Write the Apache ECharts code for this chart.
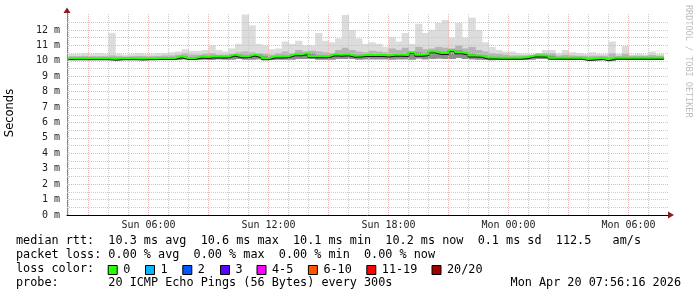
<!DOCTYPE html>
<html><head><meta charset="utf-8">
<script src="https://cdn.jsdelivr.net/npm/echarts@6/dist/echarts.min.js"></script>
<style>html,body{margin:0;padding:0;background:#fff}#c{width:697px;height:297px}</style>
</head><body><div id="c"></div>
<script>
// time in hours since Sun 00:00; samples every 20 min starting Sun 02:00
const T0 = 2.0, STEP = 1/3, TEND = 31.75;
const XMIN = 1.9266, XMAX = 31.9766;
const YMAX = 13.1;

// median rtt (ms)
const med = [10.17,10.17,10.18,10.17,10.16,10.17,10.17,10.13,10.17,10.16,
  10.17,10.15,10.17,10.17,10.18,10.18,10.18,10.30,10.18,10.18,
  10.28,10.25,10.30,10.28,10.28,10.40,10.30,10.30,10.40,10.30,
  10.17,10.28,10.28,10.30,10.42,10.42,10.50,10.30,10.30,10.30,
  10.42,10.40,10.42,10.33,10.35,10.40,10.38,10.40,10.35,10.40,
  10.40,10.38,10.55,10.40,10.42,10.60,10.50,10.50,10.68,10.55,
  10.48,10.35,10.33,10.22,10.22,10.20,10.20,10.20,10.20,10.25,
  10.35,10.35,10.33,10.20,10.20,10.20,10.20,10.20,10.12,10.15,
  10.20,10.10,10.20,10.20,10.20,10.20,10.20,10.20,10.20,10.20];
// max ping (top of light smoke)
const hi = [10.45,10.45,10.50,10.45,10.50,10.45,11.80,10.45,10.40,10.45,
  10.50,10.45,10.45,10.50,10.50,10.55,10.60,10.75,10.65,10.65,
  10.70,11.00,10.70,10.60,10.80,11.10,13.00,12.30,11.10,11.00,
  10.75,10.80,11.25,11.10,11.30,11.00,11.00,11.80,11.30,11.20,
  11.45,12.97,12.00,11.45,11.10,11.20,11.10,10.90,11.55,11.25,
  11.80,11.10,12.40,11.80,12.00,12.45,12.65,11.50,12.45,11.50,
  12.80,12.00,11.20,10.90,10.70,10.60,10.60,10.50,10.45,10.45,
  10.50,10.70,10.70,10.50,10.70,10.55,10.50,10.45,10.55,10.45,
  10.45,11.25,10.45,10.96,10.40,10.45,10.40,10.60,10.45,10.45];
// upper part of dense smoke
const q = [10.30,10.30,10.32,10.30,10.30,10.30,10.35,10.30,10.28,10.30,
  10.32,10.30,10.30,10.32,10.35,10.35,10.40,10.50,10.40,10.40,
  10.45,10.50,10.40,10.40,10.45,10.55,10.60,10.55,10.50,10.45,
  10.40,10.50,10.60,10.50,10.70,10.60,10.65,10.60,10.55,10.50,
  10.70,10.85,10.70,10.60,10.55,10.65,10.60,10.55,10.80,10.70,
  10.85,10.60,10.90,10.75,10.80,10.90,10.85,10.80,11.00,10.80,
  10.90,10.70,10.60,10.50,10.45,10.40,10.35,10.35,10.35,10.35,
  10.50,10.50,10.50,10.35,10.40,10.35,10.33,10.33,10.33,10.33,
  10.33,10.50,10.33,10.45,10.33,10.33,10.33,10.38,10.33,10.33];
// min ping (bottom of smoke)
const lo = [10.06,10.05,10.06,10.05,10.05,10.06,10.05,10.03,10.05,10.05,
  10.06,10.04,10.05,10.05,10.06,10.06,10.06,10.10,10.06,10.06,
  10.08,10.06,10.10,10.08,10.08,10.12,10.08,10.08,10.10,10.08,
  10.05,10.08,10.08,10.08,10.12,10.12,10.15,10.08,10.08,10.08,
  10.12,10.12,10.12,10.08,10.10,10.10,10.10,10.10,10.08,10.10,
  10.10,10.08,10.15,10.10,10.12,10.15,10.12,10.12,10.18,10.12,
  10.10,10.08,10.06,10.04,10.05,10.05,10.05,10.05,10.05,10.08,
  10.12,10.12,10.10,10.05,10.05,10.05,10.05,10.05,10.00,10.02,
  10.05,9.98,10.05,10.05,10.05,10.05,10.05,10.05,10.05,10.05];

const tickHours = [6,12,18,24,30];
const tickLabels = ['Sun 06:00','Sun 12:00','Sun 18:00','Mon 00:00','Mon 06:00'];
const hourLines = [2,3,4,5,6,7,8,9,10,11,12,13,14,15,16,17,18,19,20,21,22,23,24,25,26,27,28,29,30,31];
const yMinor = [0.5,1,1.5,2,2.5,3,3.5,4,4.5,5,5.5,6,6.5,7,7.5,8,8.5,9,9.5,10,10.5,11,11.5,12,12.5];

const lossLabels = ['0','1','2','3','4-5','6-10','11-19','20/20'];
const lossColors = ['#26ff00','#00b8ff','#0059ff','#5e00ff','#ff00ff','#ff5500','#ff0000','#a10000'];
const statLines = [
  'median rtt:  10.3 ms avg  10.6 ms max  10.1 ms min  10.2 ms now  0.1 ms sd  112.5   am/s',
  'packet loss: 0.00 % avg  0.00 % max  0.00 % min  0.00 % now',
  'loss color:',
  'probe:       20 ICMP Echo Pings (56 Bytes) every 300s'
];
const dateText = 'Mon Apr 20 07:56:16 2026';

function tAt(i){ return i < med.length - 1 ? T0 + (i+1)*STEP : TEND; }
function pts(arr){
  const r = arr.map((v,i)=>[T0+i*STEP, v]);
  r.push([TEND, arr[arr.length-1]]);
  return r;
}
function bandData(bottom, top){ return top.map((v,i)=>[T0+i*STEP, tAt(i), bottom[i], v]); }

const MONO = '"DejaVu Sans Mono", monospace';
const MAJ = '#e8b8b8', MIN = '#cbcbcb';

const gridLines = hourLines.map(h=>({xAxis:h, lineStyle:{color: h%3===0?MAJ:MIN, type:[1,1], width:1}}))
  .concat(yMinor.map(v=>({yAxis:v, lineStyle:{color: Number.isInteger(v)?MAJ:MIN, type:[1,1], width:1}})));

function band(bottom, top, color, z){
  return {type:'custom', silent:true, z, clip:true,
    encode:{x:[0,1], y:[2,3]},
    data: bandData(bottom, top),
    renderItem:(params, api)=>{
      const a = api.coord([api.value(0), api.value(3)]);
      const b = api.coord([api.value(1), api.value(2)]);
      return {type:'rect', shape:{x:a[0], y:a[1], width:b[0]-a[0]+0.6, height:b[1]-a[1]}, style:{fill:color}};
    }};
}

const chart = echarts.init(document.getElementById('c'), null, {renderer:'canvas'});
const lossGraphics = [];
const boxX = [107.7,145,182.3,220,256.5,307.9,366.3,431.5];
lossLabels.forEach((l,i)=>{
  lossGraphics.push({type:'rect', shape:{x:boxX[i]+0.5, y:265.5, width:9, height:9}, style:{fill:lossColors[i], stroke:'#000', lineWidth:1}});
  lossGraphics.push({type:'text', x:boxX[i]+15.5, y:270, style:{text:l, font:'11.8px '+MONO, fill:'#000', verticalAlign:'middle'}});
});
const statY = [241,255,269,283];

chart.setOption({
  animation:false,
  backgroundColor:'#fff',
  grid:{left:67, right:29, top:13, bottom:82, containLabel:false},
  xAxis:{type:'value', min:XMIN, max:XMAX,
    axisLine:{show:true, lineStyle:{color:'#000', width:1}},
    axisTick:{show:false, customValues:tickHours},
    splitLine:{show:false},
    axisLabel:{customValues:tickHours, margin:5, fontFamily:'DejaVu Sans Mono', fontSize:10, color:'#222',
      formatter:v=>{const i=tickHours.indexOf(Math.round(v)); return i>=0?tickLabels[i]:'';}}
  },
  yAxis:{type:'value', min:0, max:YMAX, interval:1,
    axisLine:{show:true, lineStyle:{color:'#888', width:1}},
    axisTick:{show:false},
    splitLine:{show:false},
    axisLabel:{margin:7, fontFamily:'DejaVu Sans Mono', fontSize:10, color:'#222', showMaxLabel:false,
      formatter:v=>(Number.isInteger(v) && v<=12)?(v+' m'):''}
  },
  series:[
    {type:'line', symbol:'none', data:pts(med), z:0, silent:true, lineStyle:{opacity:0, width:0},
      markLine:{symbol:'none', silent:true, label:{show:false}, animation:false, data:gridLines}},
    band(lo, hi, '#dcdcdc', 1),
    band(lo, q, '#b5b5b5', 2),
    band(lo, med, '#8e8e8e', 3),
    {type:'line', name:'median', step:'start', symbol:'none', data:pts(med), z:10, silent:true,
      lineStyle:{color:'#26ff00', width:2, shadowColor:'rgba(0,0,0,0.85)', shadowBlur:0, shadowOffsetY:1}}
  ],
  graphic:[
    {type:'polygon', shape:{points:[[63.5,13],[67,7.5],[70.5,13]]}, style:{fill:'#8b1a1a'}, z:100},
    {type:'polygon', shape:{points:[[668,211.5],[674,215],[668,218.5]]}, style:{fill:'#8b1a1a'}, z:100},
    {type:'text', x:10, y:113, rotation:Math.PI/2, style:{text:'Seconds', font:'11.5px "DejaVu Sans", sans-serif', fill:'#000', align:'center', verticalAlign:'middle'}},
    {type:'text', x:688, y:5, rotation:-Math.PI/2, style:{text:'RRDTOOL / TOBI OETIKER', font:'8.5px '+MONO, fill:'#bdbdbd', align:'left', verticalAlign:'middle'}},
    {type:'text', x:681, y:283, style:{text:dateText, font:'11.8px '+MONO, fill:'#000', align:'right', verticalAlign:'middle'}}
  ].concat(statLines.map((t,i)=>({type:'text', x:16, y:statY[i], style:{text:t, font:'11.8px '+MONO, fill:'#000', verticalAlign:'middle'}})))
   .concat(lossGraphics)
});
</script></body></html>
